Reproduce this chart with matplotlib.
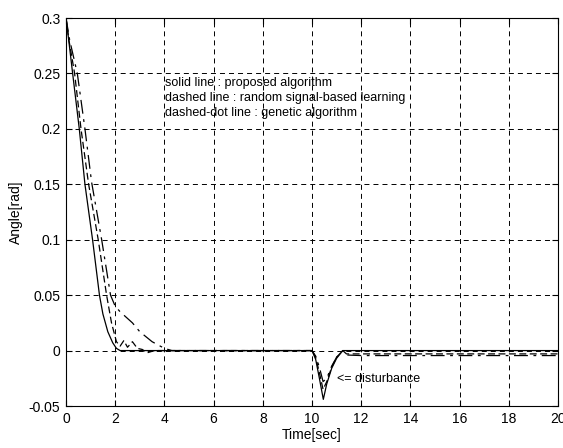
import matplotlib
matplotlib.use('Agg')
import matplotlib.pyplot as plt

plt.rcParams['font.family'] = ['Liberation Sans', 'DejaVu Sans']
plt.rcParams['lines.scale_dashes'] = False

# proposed algorithm (solid)
t_prop = [0, 0.1, 0.27, 0.54, 0.77, 1.08, 1.36, 1.5, 1.7, 1.9, 2.05, 2.2,
          10.0, 10.15, 10.3, 10.46, 10.6, 10.8, 11.0, 11.25, 20]
a_prop = [0.3, 0.282, 0.25, 0.2, 0.15, 0.1, 0.05, 0.033, 0.017, 0.007, 0.002, 0,
          0, -0.008, -0.025, -0.044, -0.03, -0.016, -0.007, 0, 0]

# random signal-based learning (dashed)
t_rand = [0, 0.12, 0.35, 0.61, 0.92, 1.31, 1.65, 1.85, 2.05, 2.2, 2.35, 2.5,
          2.7, 2.9, 3.1, 3.3, 3.6, 10.0, 10.15, 10.3, 10.45, 10.6, 10.8, 11.0,
          11.25, 11.4, 12, 20]
a_rand = [0.3, 0.28, 0.25, 0.2, 0.15, 0.1, 0.05, 0.025, 0.008, 0.004, 0.009, 0.003,
          0.008, 0.002, 0.001, -0.002, 0, 0, -0.006, -0.02, -0.035, -0.028, -0.015, -0.006,
          0.0, -0.003, -0.003, -0.003]

# genetic algorithm (dash-dot)
t_gen = [0, 0.15, 0.46, 0.77, 1.04, 1.45, 1.81, 2.0, 2.2, 2.7, 3.0, 3.5, 4.0, 4.3,
         10.0, 10.15, 10.3, 10.45, 10.6, 10.8, 11.0, 11.25, 11.4, 12, 20]
a_gen = [0.3, 0.28, 0.25, 0.2, 0.152, 0.1, 0.05, 0.04, 0.035, 0.025, 0.017, 0.008, 0.002, 0,
         0, -0.005, -0.015, -0.028, -0.025, -0.014, -0.006, 0.0, -0.004, -0.0045, -0.0045]

xticks = list(range(0, 21, 2))
yticks = [-0.05, 0, 0.05, 0.1, 0.15, 0.2, 0.25, 0.3]
ytick_labels = ['-0.05', '0', '0.05', '0.1', '0.15', '0.2', '0.25', '0.3']

fig = plt.figure(figsize=(5.63, 4.48), dpi=100)
ax = fig.add_axes([66/563, 1-406/448, (558-66)/563, (406-18)/448])

ax.plot(t_prop, a_prop, color='black', lw=0.9, linestyle='-')
ax.plot(t_rand, a_rand, color='black', lw=0.9, linestyle=(0, (5, 2.5)))
ax.plot(t_gen, a_gen, color='black', lw=0.9, linestyle=(0, (10, 4, 2, 4)))

ax.set_xlim(0, 20)
ax.set_ylim(-0.05, 0.3)
ax.set_xticks(xticks)
ax.set_yticks(yticks)
ax.set_yticklabels(ytick_labels)
ax.tick_params(direction='in', length=4, width=0.8, labelsize=10, pad=4,
               top=True, right=True)
ax.grid(True, color='black', lw=0.7, linestyle=(0, (3.6, 2.9)))
for s in ax.spines.values():
    s.set_linewidth(0.8)

ax.set_xlabel('Time[sec]', fontsize=10, labelpad=2)
ax.set_ylabel('Angle[rad]', fontsize=10, labelpad=4)

ax.text(4.02, 0.2411, 'solid line : proposed algorithm', fontsize=9, va='center')
ax.text(4.02, 0.2276, 'dashed line : random signal-based learning', fontsize=9, va='center')
ax.text(4.02, 0.2141, 'dashed-dot line : genetic algorithm', fontsize=9, va='center')
ax.text(11.0, -0.026, '<= disturbance', fontsize=9, va='center')

fig.savefig('out.png', dpi=100)
